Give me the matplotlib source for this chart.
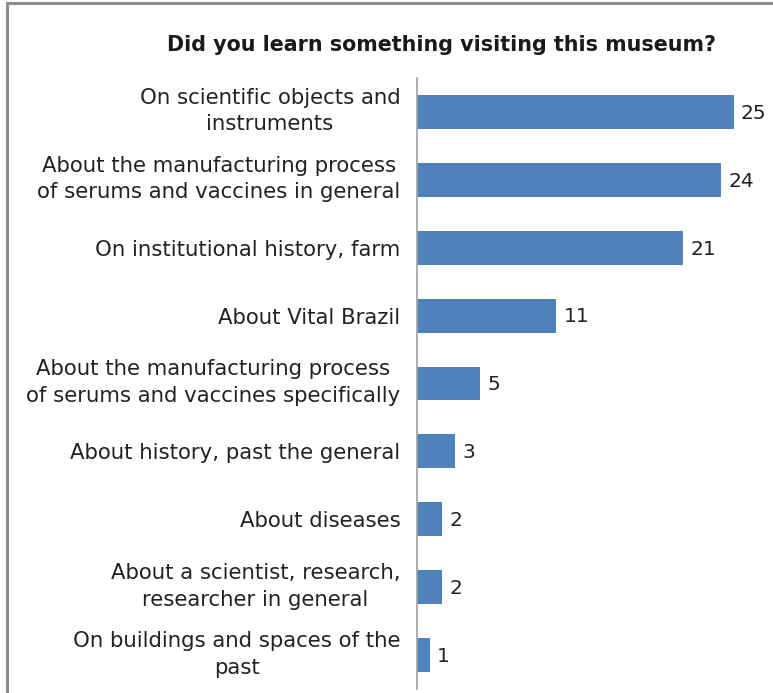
import matplotlib
matplotlib.use("Agg")
import matplotlib.pyplot as plt
import matplotlib.transforms as mtransforms
from matplotlib.patches import Rectangle

categories = [
    "On scientific objects and\ninstruments",
    "About the manufacturing process\nof serums and vaccines in general",
    "On institutional history, farm",
    "About Vital Brazil",
    "About the manufacturing process\nof serums and vaccines specifically",
    "About history, past the general",
    "About diseases",
    "About a scientist, research,\nresearcher in general",
    "On buildings and spaces of the\npast",
]
counts = [25, 24, 21, 11, 5, 3, 2, 2, 1]
title = "Did you learn something visiting this museum?"

W, H = 773, 693
fig = plt.figure(figsize=(W / 100, H / 100), dpi=100)
fig.patch.set_facecolor("white")

# outer frame of the chart area
fig.patches.append(Rectangle((7 / W, -0.05), 1.2, (H - 3) / H + 0.05,
                             transform=fig.transFigure, fill=False,
                             edgecolor="#8c8c8c", linewidth=2.2))

ax_left, ax_top, ax_bottom = 417, 78, 689
ax_w = 28 * 12.68
ax = fig.add_axes([ax_left / W, 1 - ax_bottom / H, ax_w / W, (ax_bottom - ax_top) / H])

y = list(range(len(categories)))
ax.barh(y, counts, height=0.5, color="#4F81BD")
ax.set_xlim(0, 28)
ax.set_ylim(len(categories) - 0.5, -0.5)

for yi, v in zip(y, counts):
    ax.text(v + 0.55, yi + 0.02, str(v), va="center", ha="left", fontsize=14.5, color="#222222")

ax.set_yticks(y)
ax.set_yticklabels(categories, fontsize=15.3, color="#222222", multialignment="center",
                   linespacing=1.42)
ax.tick_params(axis="y", length=0, pad=12)
# two-line labels sit slightly above the bar centre
lift = mtransforms.ScaledTranslation(0, 4.5 / 72, fig.dpi_scale_trans)
for lab in ax.get_yticklabels():
    if "\n" in lab.get_text():
        lab.set_transform(lab.get_transform() + lift)
ax.set_xticks([])
for s in ["top", "right", "bottom"]:
    ax.spines[s].set_visible(False)
ax.spines["left"].set_color("#a0a0a0")
ax.spines["left"].set_linewidth(1.2)

fig.text(441 / W, 1 - 45 / H, title, ha="center", va="center",
         fontsize=14.9, fontweight="bold", color="#1a1a1a")

fig.savefig("out.png", dpi=100)
